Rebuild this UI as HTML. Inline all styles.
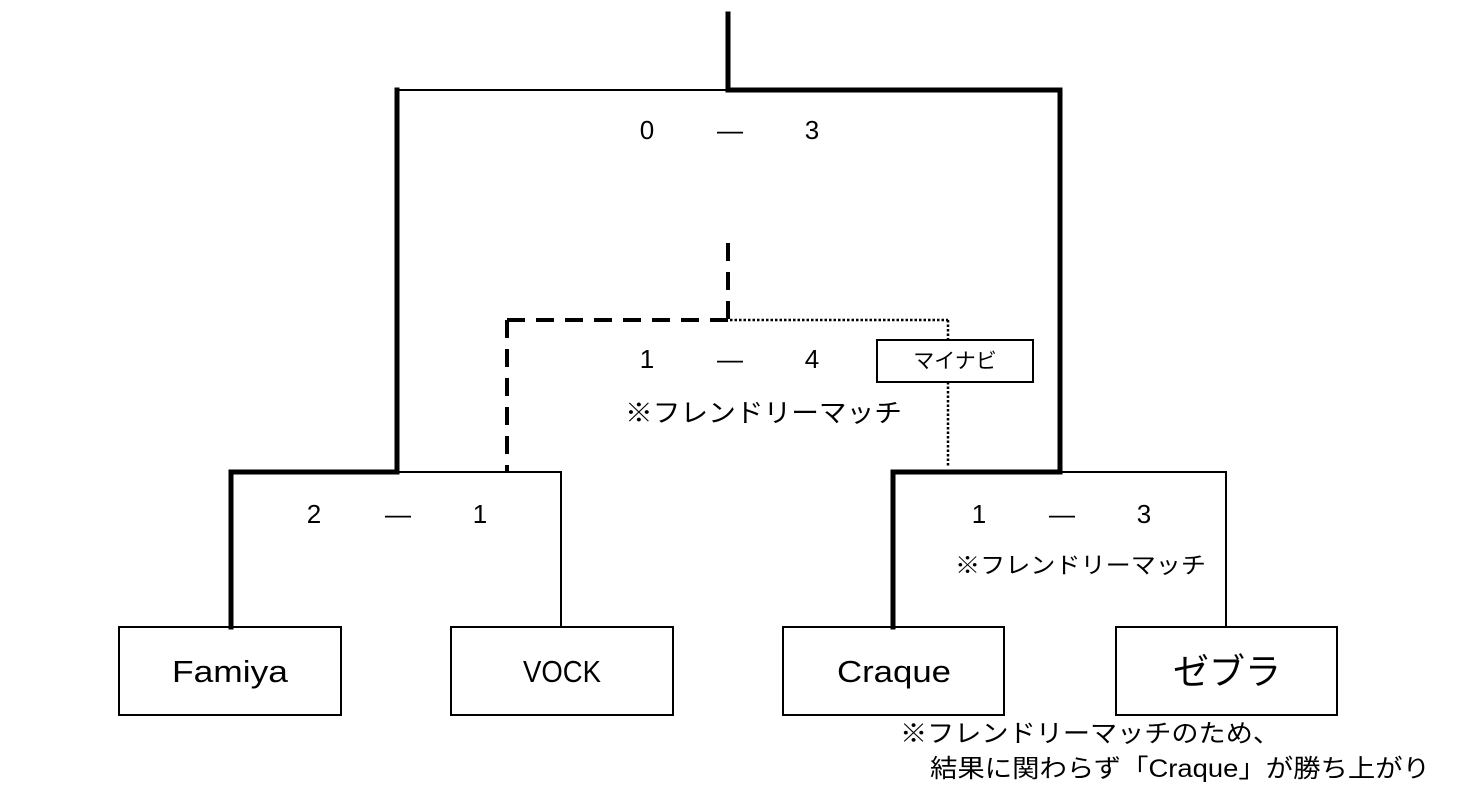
<!DOCTYPE html>
<html><head><meta charset="utf-8"><style>
html,body{margin:0;padding:0;background:#fff}
svg text{font-family:"Liberation Sans","Noto Sans CJK JP",sans-serif;fill:#000}
</style></head><body>
<svg width="1464" height="802" viewBox="0 0 1464 802" xmlns="http://www.w3.org/2000/svg">
<g stroke="#000" fill="none" stroke-linecap="square">
<line x1="728" y1="14" x2="728" y2="90" stroke-width="5"/>
<line x1="397" y1="90" x2="728" y2="90" stroke-width="2"/>
<line x1="728" y1="90" x2="1060" y2="90" stroke-width="5"/>
<line x1="397" y1="90" x2="397" y2="472" stroke-width="5"/>
<line x1="1060" y1="90" x2="1060" y2="472" stroke-width="5"/>
<line x1="231" y1="472" x2="397" y2="472" stroke-width="5"/>
<line x1="397" y1="472" x2="561" y2="472" stroke-width="2"/>
<line x1="231" y1="472" x2="231" y2="627" stroke-width="5"/>
<line x1="561" y1="472" x2="561" y2="627" stroke-width="2"/>
<line x1="893" y1="472" x2="1060" y2="472" stroke-width="5"/>
<line x1="1060" y1="472" x2="1226" y2="472" stroke-width="2"/>
<line x1="893" y1="472" x2="893" y2="627" stroke-width="5"/>
<line x1="1226" y1="472" x2="1226" y2="627" stroke-width="2"/>
<g stroke-width="4" stroke-linecap="butt" stroke-dasharray="18,11">
<line x1="728" y1="243" x2="728" y2="320"/>
<line x1="728" y1="320" x2="507" y2="320"/>
<line x1="507" y1="320" x2="507" y2="472"/>
</g>
<g stroke-width="2.5" stroke-linecap="butt" stroke-dasharray="2.5,2">
<line x1="730" y1="320" x2="948" y2="320"/>
<line x1="948" y1="320" x2="948" y2="340"/>
<line x1="948" y1="382" x2="948" y2="466"/>
</g>
<rect x="877" y="340" width="156" height="42" stroke-width="2"/>
<rect x="119" y="627" width="222" height="88" stroke-width="2"/>
<rect x="451" y="627" width="222" height="88" stroke-width="2"/>
<rect x="783" y="627" width="221" height="88" stroke-width="2"/>
<rect x="1116" y="627" width="221" height="88" stroke-width="2"/>
</g>
<g font-size="26" text-anchor="middle">
<text x="647" y="139">0</text><text x="730" y="139">—</text><text x="812" y="139">3</text>
<text x="647" y="368">1</text><text x="730" y="368">—</text><text x="812" y="368">4</text>
<text x="314" y="523">2</text><text x="398" y="523">—</text><text x="480" y="523">1</text>
<text x="979" y="523">1</text><text x="1062" y="523">—</text><text x="1144" y="523">3</text>
</g>
<text x="625" y="422" font-size="26" textLength="277" lengthAdjust="spacingAndGlyphs">※フレンドリーマッチ</text>
<text x="955" y="573" font-size="23" textLength="251" lengthAdjust="spacingAndGlyphs">※フレンドリーマッチ</text>
<text x="955" y="368" font-size="21" text-anchor="middle">マイナビ</text>
<g font-size="31" text-anchor="middle">
<text x="230" y="682" textLength="116" lengthAdjust="spacingAndGlyphs">Famiya</text>
<text x="562" y="682" textLength="78" lengthAdjust="spacingAndGlyphs">VOCK</text>
<text x="894" y="682" textLength="114" lengthAdjust="spacingAndGlyphs">Craque</text>
<text x="1227" y="684" font-size="36">ゼブラ</text>
</g>
<text x="900" y="742" font-size="25" textLength="380" lengthAdjust="spacingAndGlyphs">※フレンドリーマッチのため、</text>
<text x="930" y="777" font-size="25" textLength="500" lengthAdjust="spacingAndGlyphs">結果に関わらず「Craque」が勝ち上がり</text>
</svg>
</body></html>
